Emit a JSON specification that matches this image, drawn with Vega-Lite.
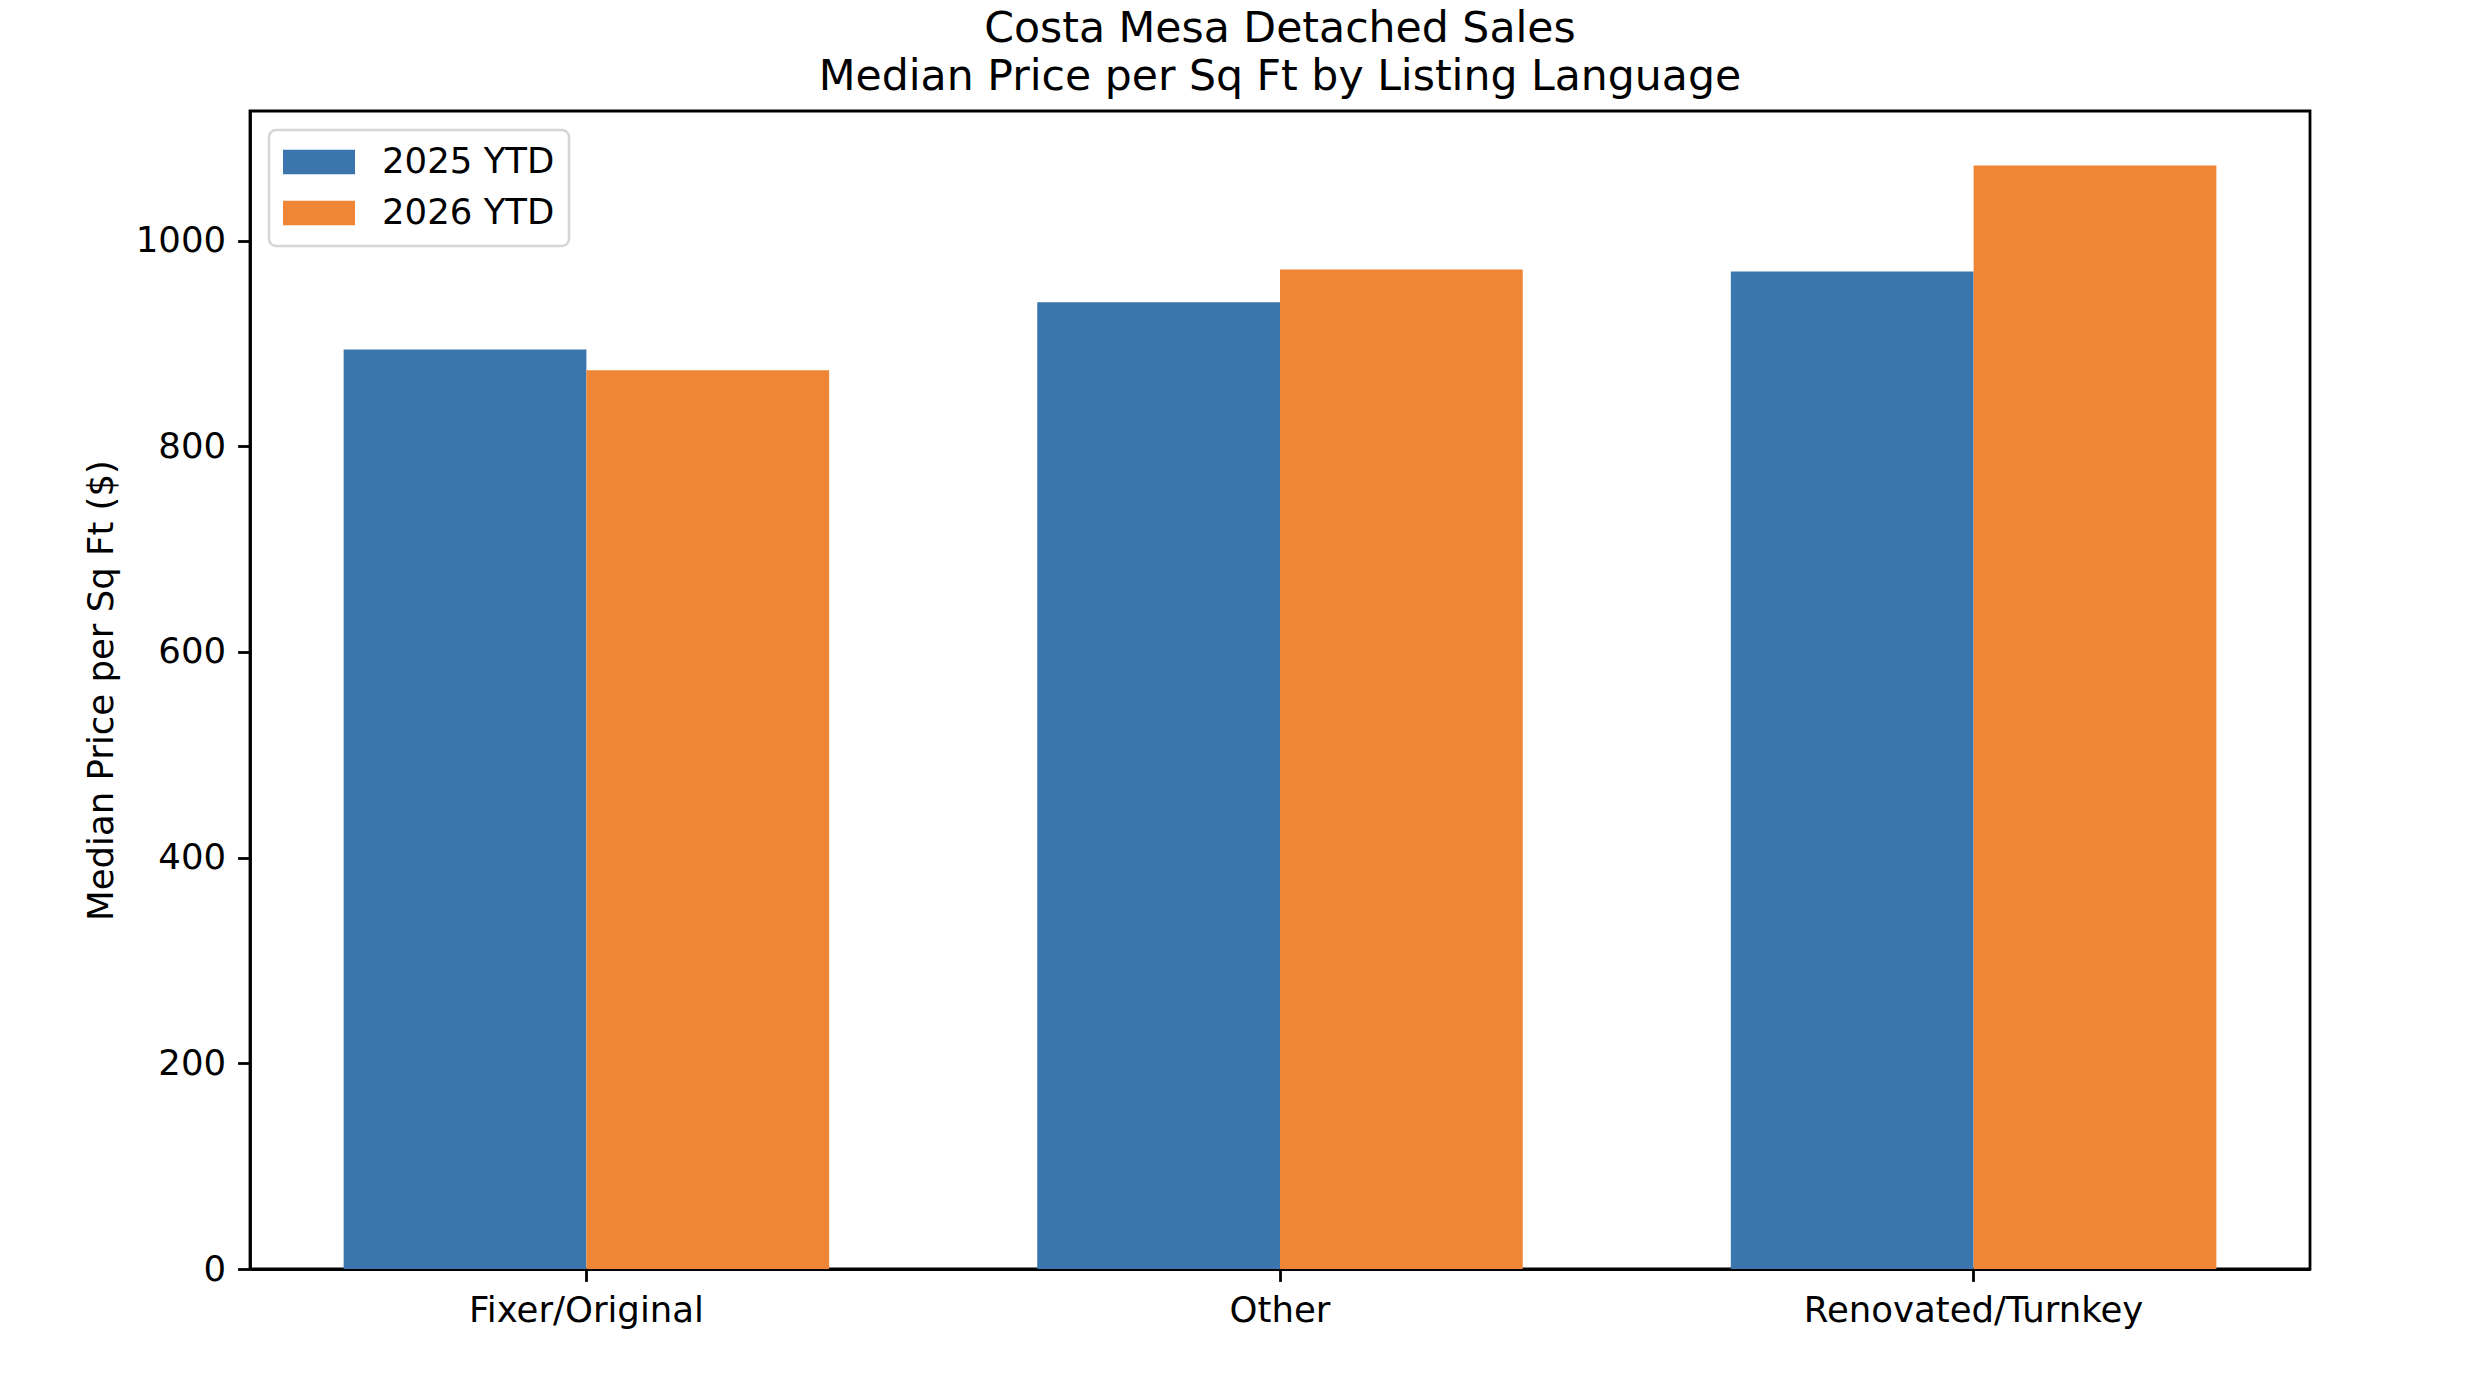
{
  "$schema": "https://vega.github.io/schema/vega-lite/v6.json",
  "width": 2060,
  "height": 1158,
  "autosize": "none",
  "padding": {"left": 250, "top": 111, "right": 174, "bottom": 119},
  "background": "white",
  "title": {
    "text": ["Costa Mesa Detached Sales", "Median Price per Sq Ft by Listing Language"],
    "font": "DejaVu Sans",
    "fontSize": 42.6,
    "fontWeight": "normal",
    "lineHeight": 48,
    "color": "black",
    "anchor": "middle",
    "frame": "group",
    "offset": 12
  },
  "data": {
    "values": [
      {"category": "Fixer/Original", "year": "2025 YTD", "value": 894},
      {"category": "Fixer/Original", "year": "2026 YTD", "value": 874},
      {"category": "Other", "year": "2025 YTD", "value": 940},
      {"category": "Other", "year": "2026 YTD", "value": 972},
      {"category": "Renovated/Turnkey", "year": "2025 YTD", "value": 970},
      {"category": "Renovated/Turnkey", "year": "2026 YTD", "value": 1073}
    ]
  },
  "mark": {"type": "bar"},
  "encoding": {
    "x": {
      "field": "category",
      "type": "nominal",
      "sort": ["Fixer/Original", "Other", "Renovated/Turnkey"],
      "scale": {"paddingInner": 0.3, "paddingOuter": 0.135},
      "axis": {
        "title": null,
        "labelAngle": 0,
        "labelLimit": 0,
        "labelFont": "DejaVu Sans",
        "labelFontSize": 35.5,
        "labelColor": "black",
        "labelPadding": 12,
        "tickSize": 12.4,
        "tickWidth": 2.8,
        "tickColor": "black",
        "domainColor": "black",
        "domainWidth": 2.8,
        "grid": false
      }
    },
    "xOffset": {
      "field": "year",
      "type": "nominal",
      "scale": {"paddingInner": 0, "paddingOuter": 0}
    },
    "y": {
      "field": "value",
      "type": "quantitative",
      "scale": {"domain": [0, 1126], "nice": false},
      "axis": {
        "title": "Median Price per Sq Ft ($)",
        "titleFont": "DejaVu Sans",
        "titleFontSize": 35.5,
        "titleFontWeight": "normal",
        "titleColor": "black",
        "titlePadding": 16,
        "values": [0, 200, 400, 600, 800, 1000],
        "format": "d",
        "labelFont": "DejaVu Sans",
        "labelFontSize": 35.5,
        "labelColor": "black",
        "labelPadding": 12,
        "tickSize": 12.4,
        "tickWidth": 2.8,
        "tickColor": "black",
        "domainColor": "black",
        "domainWidth": 2.8,
        "grid": false
      }
    },
    "color": {
      "field": "year",
      "type": "nominal",
      "scale": {"domain": ["2025 YTD", "2026 YTD"], "range": ["#3A75AE", "#EF8636"]},
      "legend": {
        "title": null,
        "orient": "top-left",
        "offset": 19,
        "padding": 14,
        "fillColor": "white",
        "strokeColor": "#d6d6d6",
        "cornerRadius": 7,
        "symbolType": "M-2,-0.68H2V0.68H-2Z",
        "symbolSize": 1296,
        "symbolOffset": 18,
        "symbolStrokeWidth": 0,
        "symbolOpacity": 1,
        "labelFont": "DejaVu Sans",
        "labelFontSize": 35.5,
        "labelLimit": 0,
        "labelColor": "black",
        "labelOffset": 45,
        "rowPadding": 14
      }
    }
  },
  "config": {
    "view": {"stroke": "black", "strokeWidth": 2.8},
    "legend": {"strokeWidth": 2.5}
  }
}
